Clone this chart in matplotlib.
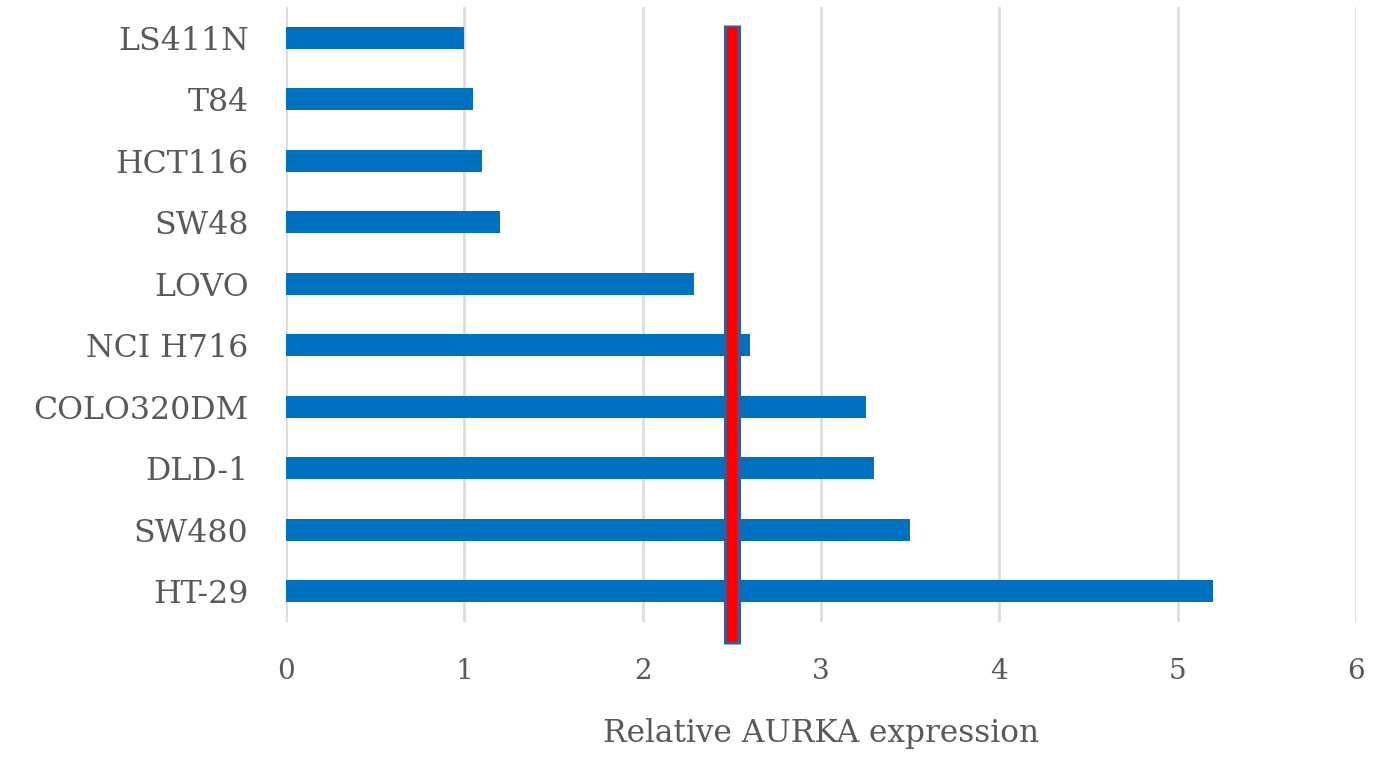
import matplotlib
matplotlib.use("Agg")
import matplotlib.pyplot as plt

categories = ["HT-29", "SW480", "DLD-1", "COLO320DM", "NCI H716",
              "LOVO", "SW48", "HCT116", "T84", "LS411N"]
values = [5.2, 3.5, 3.3, 3.25, 2.6, 2.29, 1.2, 1.1, 1.05, 1.0]
threshold = 2.5
xticks = [0, 1, 2, 3, 4, 5, 6]
xlabel = "Relative AURKA expression"

plt.rcParams['font.family'] = ['DejaVu Serif']
txt = '#595959'

fig = plt.figure(figsize=(13.88, 7.62), dpi=100)
ax = fig.add_axes([286/1388, 1-622/762, (1356-286)/1388, (622-7)/762])

y = list(range(len(categories)))
ax.barh(y, values, height=0.36, color='#0070C0', zorder=3)
ax.set_ylim(-0.5, len(categories) - 0.5)
ax.set_xlim(0, 6)
ax.set_xticks(xticks)
ax.set_yticks(y)
ax.set_yticklabels(categories, fontsize=22.8, color=txt)
ax.set_xticklabels([str(t) for t in xticks], fontsize=20, color=txt)
ax.tick_params(axis='both', length=0)
ax.tick_params(axis='y', pad=27)
ax.tick_params(axis='x', pad=26)
ax.grid(axis='x', color='#DDDDDD', linewidth=2, zorder=0)
for s in ax.spines.values():
    s.set_visible(False)

ax.plot([threshold, threshold], [-0.86, len(categories) - 0.79], color='#3B5A9A',
        linewidth=12.3, solid_capstyle='butt', clip_on=False, zorder=5)
ax.plot([threshold, threshold], [-0.83, len(categories) - 0.82], color='#FF0000',
        linewidth=7.5, solid_capstyle='butt', clip_on=False, zorder=6)

ax.set_xlabel(xlabel, fontsize=22.5, color=txt, labelpad=24)

fig.savefig("out.png", dpi=100)
